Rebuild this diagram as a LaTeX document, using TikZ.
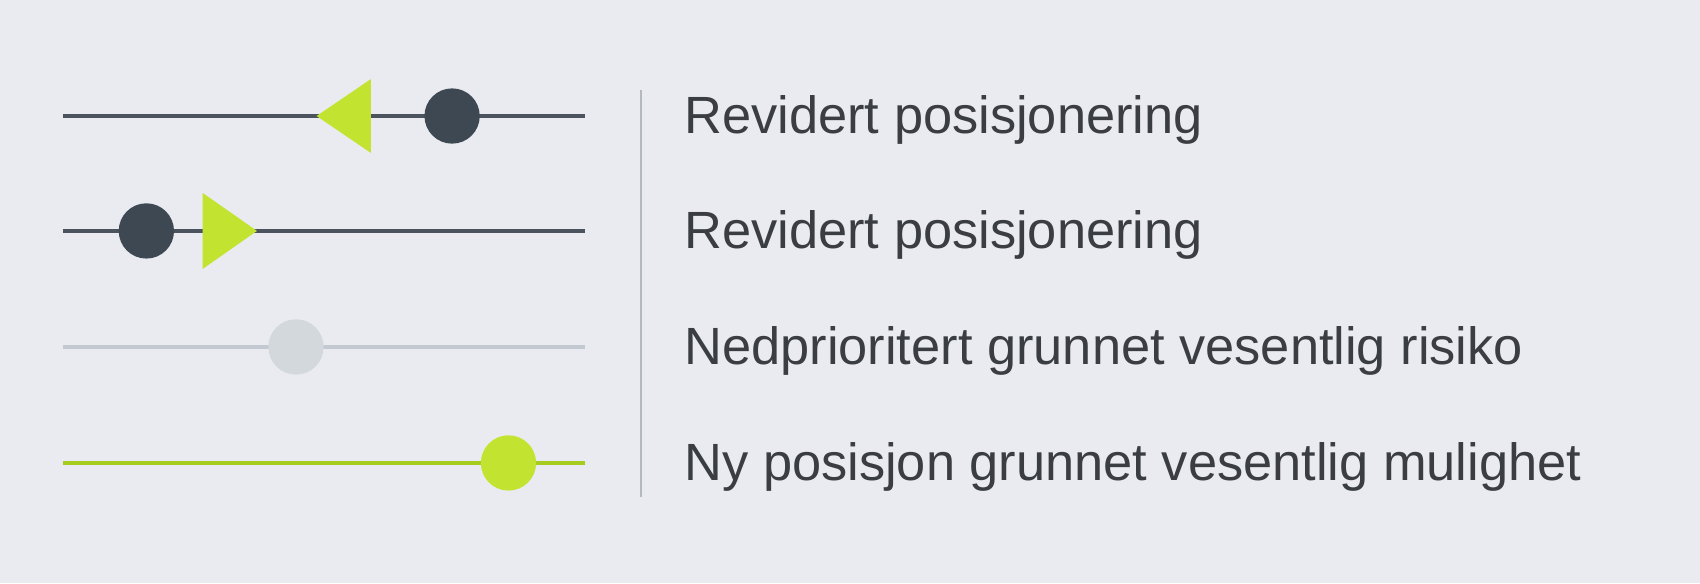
\documentclass[tikz,border=0pt]{standalone}
\usepackage{fontspec}
\setmainfont{Liberation Sans}
\definecolor{bgcol}{RGB}{234,235,240}
\definecolor{darkline}{RGB}{75,84,94}
\definecolor{darkdot}{RGB}{62,72,82}
\definecolor{limecol}{RGB}{194,228,48}
\definecolor{limeline}{RGB}{165,204,30}
\definecolor{paleline}{RGB}{195,201,208}
\definecolor{paledot}{RGB}{211,216,221}
\definecolor{sepcol}{RGB}{180,185,191}
\definecolor{txtcol}{RGB}{58,62,67}
\begin{document}
\begin{tikzpicture}[x=0.02cm,y=-0.02cm,
  track/.style={line width=0.08cm},
  dot/.style={circle,minimum size=1.02cm,inner sep=0pt,draw=none},
  tri/.style={fill=limecol,draw=none},
  legtext/.style={anchor=base west,inner sep=0pt,text=txtcol,font=\fontsize{27.5}{30}\selectfont}]
\fill[bgcol] (0,0) rectangle (1568,538);
\useasboundingbox (0,0) rectangle (1568,538);
% row 1
\coordinate (a1) at (58,107); \coordinate (b1) at (540,107);
\draw[track,darkline] (a1) -- (b1);
\fill[tri] (292,107) -- (342,73) -- (342,141) -- cycle;
\node[dot,fill=darkdot] (d1) at (417,107) {};
\node[legtext] (t1) at (631,123) {Revidert posisjonering};
% row 2
\coordinate (a2) at (58,213); \coordinate (b2) at (540,213);
\draw[track,darkline] (a2) -- (b2);
\node[dot,fill=darkdot] (d2) at (135,213) {};
\fill[tri] (187,178) -- (237,213) -- (187,248) -- cycle;
\node[legtext] (t2) at (631,229) {Revidert posisjonering};
% row 3
\coordinate (a3) at (58,320); \coordinate (b3) at (540,320);
\draw[track,paleline] (a3) -- (b3);
\node[dot,fill=paledot] (d3) at (273,320) {};
\node[legtext] (t3) at (631,336) {Nedprioritert grunnet vesentlig risiko};
% row 4
\coordinate (a4) at (58,427); \coordinate (b4) at (540,427);
\draw[track,limeline] (a4) -- (b4);
\node[dot,fill=limecol] (d4) at (469,427) {};
\node[legtext] (t4) at (631,443) {Ny posisjon grunnet vesentlig mulighet};
% separator
\coordinate (s1) at (591,83); \coordinate (s2) at (591,458);
\draw[sepcol,line width=0.04cm] (s1) -- (s2);
\end{tikzpicture}
\end{document}
